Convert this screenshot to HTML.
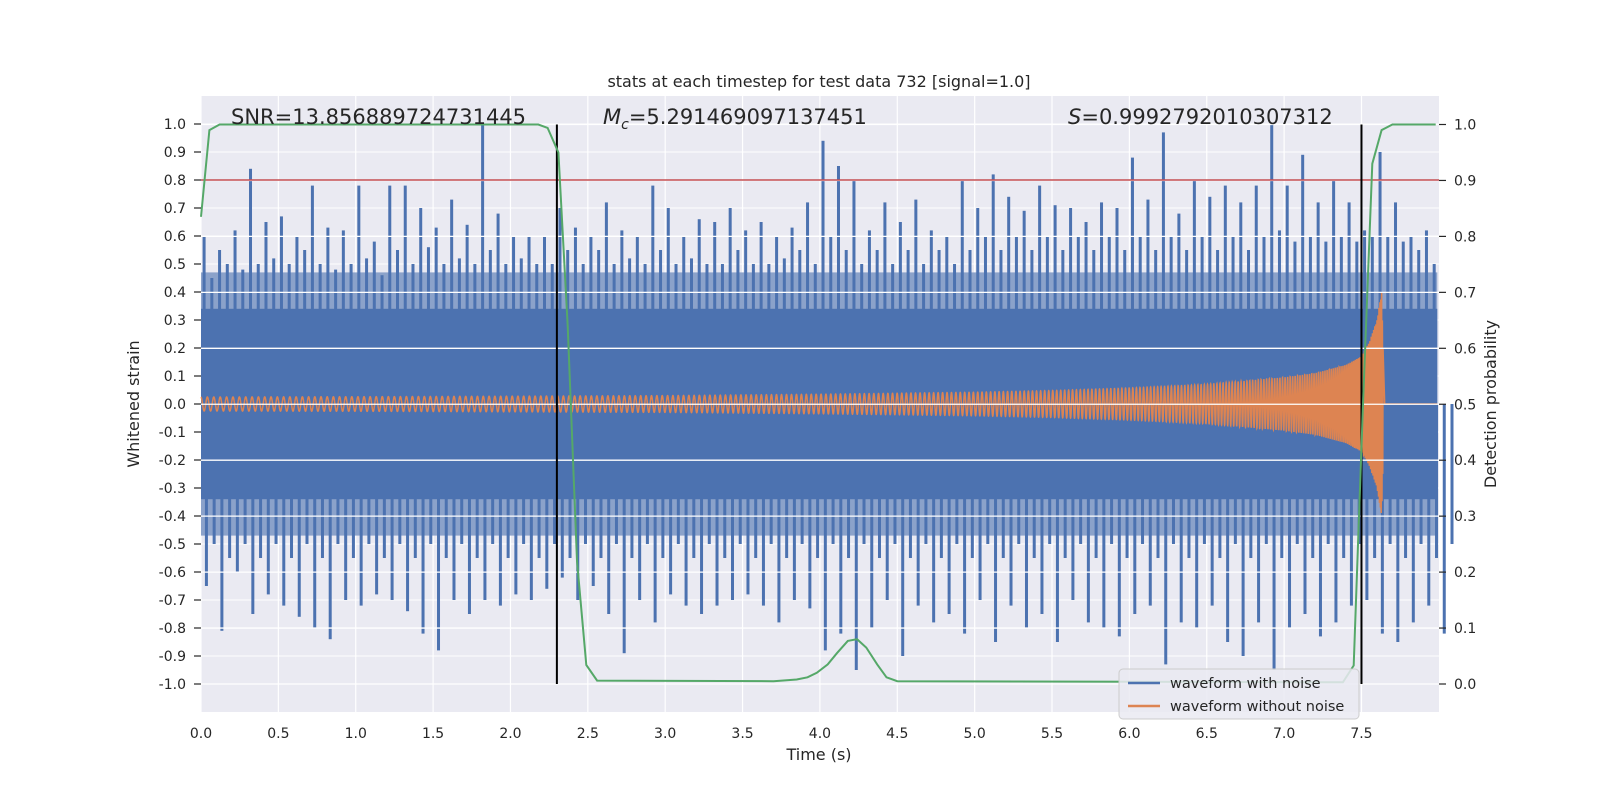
<!DOCTYPE html>
<html><head><meta charset="utf-8"><style>
html,body{margin:0;padding:0;background:#fff;}
svg text{font-family:"DejaVu Sans","Liberation Sans",sans-serif;fill:#262626;}
</style></head><body>
<svg id="chart" width="1600" height="800" viewBox="0 0 1600 800" xmlns="http://www.w3.org/2000/svg">
<rect x="201" y="96" width="1238" height="616" fill="#eaeaf2"/>
<g id="gridL"></g><g id="blue"></g><g id="orange"></g><g id="gridR"></g><g id="overlay"></g><g id="axes"></g>
<text x="819" y="87" text-anchor="middle" font-size="16">stats at each timestep for test data 732 [signal=1.0]</text>
<text x="231" y="124" font-size="21">SNR=13.856889724731445</text>
<text x="603" y="124" font-size="21"><tspan font-style="italic">M</tspan><tspan font-style="italic" font-size="14" dy="5">c</tspan><tspan dy="-5">=5.291469097137451</tspan></text>
<text x="1068" y="124" font-size="21"><tspan font-style="italic">S</tspan>=0.9992792010307312</text>
<text x="819" y="760" text-anchor="middle" font-size="16">Time (s)</text>
<text transform="translate(139,404) rotate(-90)" text-anchor="middle" font-size="16">Whitened strain</text>
<text transform="translate(1496,404) rotate(-90)" text-anchor="middle" font-size="16">Detection probability</text>
<g>
<rect x="1119" y="669" width="240" height="50" rx="4" fill="#eaeaf2" fill-opacity="0.85" stroke="#cccccc"/>
<line x1="1128" y1="683" x2="1160" y2="683" stroke="#4c72b0" stroke-width="2.5"/>
<text x="1170" y="688" font-size="14.5">waveform with noise</text>
<line x1="1128" y1="706" x2="1160" y2="706" stroke="#dd8452" stroke-width="2.5"/>
<text x="1170" y="711" font-size="14.5">waveform without noise</text>
</g>
</svg>
<script>
const upper=[0.6,0.45,0.55,0.5,0.62,0.48,0.84,0.5,0.65,0.52,0.67,0.5,0.6,0.55,0.78,0.5,0.63,0.48,0.62,0.5,0.78,0.52,0.58,0.46,0.78,0.55,0.78,0.5,0.7,0.56,0.63,0.5,0.73,0.52,0.64,0.5,1.0,0.55,0.68,0.5,0.6,0.52,0.6,0.5,0.6,0.5,0.7,0.55,0.63,0.5,0.6,0.55,0.72,0.5,0.62,0.52,0.6,0.5,0.78,0.55,0.7,0.5,0.6,0.52,0.66,0.5,0.65,0.5,0.7,0.55,0.62,0.5,0.65,0.5,0.6,0.52,0.63,0.55,0.72,0.5,0.94,0.6,0.85,0.55,0.8,0.5,0.62,0.55,0.72,0.5,0.65,0.55,0.73,0.5,0.62,0.55,0.6,0.5,0.8,0.55,0.7,0.6,0.82,0.55,0.74,0.6,0.69,0.55,0.78,0.6,0.71,0.55,0.7,0.6,0.65,0.55,0.72,0.6,0.7,0.55,0.88,0.6,0.73,0.55,0.97,0.6,0.68,0.55,0.8,0.6,0.74,0.55,0.78,0.6,0.72,0.55,0.78,0.6,1.0,0.62,0.78,0.58,0.89,0.6,0.72,0.58,0.8,0.6,0.72,0.58,0.62,0.6,0.9,0.6,0.72,0.58,0.6,0.55,0.62,0.5];
const lower=[-0.65,-0.5,-0.81,-0.55,-0.6,-0.5,-0.75,-0.55,-0.68,-0.5,-0.72,-0.55,-0.76,-0.5,-0.8,-0.55,-0.84,-0.5,-0.7,-0.55,-0.72,-0.5,-0.68,-0.55,-0.7,-0.5,-0.74,-0.55,-0.82,-0.5,-0.88,-0.55,-0.7,-0.5,-0.75,-0.55,-0.7,-0.5,-0.72,-0.55,-0.68,-0.5,-0.7,-0.55,-0.66,-0.5,-0.62,-0.55,-0.7,-0.5,-0.65,-0.55,-0.75,-0.5,-0.89,-0.55,-0.7,-0.5,-0.78,-0.55,-0.68,-0.5,-0.72,-0.55,-0.75,-0.5,-0.72,-0.55,-0.7,-0.5,-0.68,-0.55,-0.72,-0.5,-0.78,-0.55,-0.7,-0.5,-0.73,-0.55,-0.88,-0.5,-0.82,-0.55,-0.95,-0.5,-0.8,-0.55,-0.7,-0.5,-0.9,-0.55,-0.72,-0.5,-0.78,-0.55,-0.75,-0.5,-0.82,-0.55,-0.7,-0.5,-0.85,-0.55,-0.72,-0.5,-0.8,-0.55,-0.75,-0.5,-0.85,-0.55,-0.7,-0.5,-0.78,-0.55,-0.8,-0.5,-0.83,-0.55,-0.75,-0.5,-0.72,-0.55,-0.93,-0.5,-0.78,-0.55,-0.8,-0.5,-0.72,-0.55,-0.85,-0.5,-0.9,-0.55,-0.78,-0.5,-0.95,-0.55,-0.8,-0.5,-0.75,-0.55,-0.83,-0.5,-0.78,-0.55,-0.72,-0.5,-0.7,-0.55,-0.82,-0.5,-0.85,-0.55,-0.78,-0.5,-0.72,-0.55,-0.82,-0.5];
const coreHi=0.34, coreLo=-0.34;
const denseHi=0.47, denseLo=-0.47;
const ampT=[0,1,2,3,4,5,5.5,6,6.5,7,7.2,7.4,7.5,7.55,7.6,7.63,7.65];
const ampV=[0.025,0.026,0.028,0.03,0.035,0.042,0.048,0.057,0.07,0.095,0.11,0.14,0.17,0.22,0.3,0.4,0];
const probT=[0,0.054,0.12,2.18,2.24,2.31,2.37,2.43,2.49,2.56,3.7,3.85,3.92,3.98,4.05,4.11,4.18,4.24,4.3,4.37,4.43,4.5,7.38,7.45,7.51,7.57,7.63,7.7,7.98];
const probV=[0.835,0.99,1.0,1.0,0.994,0.95,0.64,0.22,0.034,0.006,0.005,0.008,0.012,0.02,0.035,0.055,0.077,0.08,0.065,0.035,0.012,0.005,0.003,0.033,0.5,0.93,0.99,1.0,1.0];
const xTicks=[0,0.5,1,1.5,2,2.5,3,3.5,4,4.5,5,5.5,6,6.5,7,7.5];
const yTicks=[1,0.9,0.8,0.7,0.6,0.5,0.4,0.3,0.2,0.1,0,-0.1,-0.2,-0.3,-0.4,-0.5,-0.6,-0.7,-0.8,-0.9,-1];
const rTicks=[0,0.1,0.2,0.3,0.4,0.5,0.6,0.7,0.8,0.9,1];
const vLines=[2.3,7.5];
const threshold=0.8;

const NS='http://www.w3.org/2000/svg';
const X=t=>201+t*154.73, Y=v=>404-v*280, R=v=>684-v*559.5;
function mk(parent,tag,attrs){const e=document.createElementNS(NS,tag);for(const k in attrs)e.setAttribute(k,attrs[k]);document.getElementById(parent).appendChild(e);return e;}
yTicks.forEach(v=>{const l=mk('gridL','line',{x1:201,x2:1439,y1:Y(v),y2:Y(v),stroke:'#fff','stroke-width':1});

});
xTicks.forEach(t=>{const l=mk('gridL','line',{x1:X(t),x2:X(t),y1:96,y2:712,stroke:'#fff','stroke-width':1.2});

});
const dense=mk('blue','rect',{x:X(0),y:Y(denseHi),width:X(7.99)-X(0),height:Y(denseLo)-Y(denseHi),fill:'#8ba2ca'});


const core=mk('blue','rect',{x:X(0),y:Y(coreHi),width:X(7.99)-X(0),height:Y(coreLo)-Y(coreHi),fill:'#4c72b0'});


const step=8/upper.length;
upper.forEach((v,i)=>{const r=mk('blue','rect',{x:X(i*step+0.02)-1.5,y:Y(v),width:3,height:Y(0)-Y(v),fill:'#4c72b0'});

});
lower.forEach((v,i)=>{const r=mk('blue','rect',{x:X(i*step+0.035)-1.5,y:Y(0),width:3,height:Y(v)-Y(0),fill:'#4c72b0'});

});
function amp(t){for(let i=0;i<ampT.length-1;i++){if(t<=ampT[i+1]){const f=(t-ampT[i])/(ampT[i+1]-ampT[i]);return ampV[i]+f*(ampV[i+1]-ampV[i]);}}return 0;}
let pts=[],ph=0,dt=0.0005;
for(let t=0;t<=7.99;t+=dt){const tc=ampT[ampT.length-1];const fr=t<tc-0.01?24*Math.pow(1-t/(tc+0.01),-0.375):0;ph+=2*Math.PI*fr*dt;const a=t<tc?amp(t):0;pts.push(X(t).toFixed(2)+','+Y(a*Math.cos(ph)).toFixed(2));}
const op=mk('orange','polyline',{points:pts.join(' '),fill:'none',stroke:'#dd8452','stroke-width':1.5});


rTicks.forEach(v=>{const l=mk('gridR','line',{x1:201,x2:1439,y1:R(v),y2:R(v),stroke:'#fff','stroke-width':1.3});

});
const th=mk('overlay','line',{x1:201,x2:1439,y1:Y(threshold),y2:Y(threshold),stroke:'#c44e52','stroke-width':1.5});


vLines.forEach(t=>{const l=mk('overlay','line',{x1:X(t),x2:X(t),y1:R(1),y2:R(0),stroke:'#000','stroke-width':2});

});
const gp=mk('overlay','polyline',{points:probT.map((t,i)=>X(t).toFixed(1)+','+R(probV[i]).toFixed(1)).join(' '),fill:'none',stroke:'#55a868','stroke-width':2});


xTicks.forEach(t=>{const l=mk('axes','text',{x:X(t),y:738,'text-anchor':'middle','font-size':14});l.textContent=t.toFixed(1);

});
yTicks.forEach(v=>{const l=mk('axes','text',{x:186,y:Y(v)+5,'text-anchor':'end','font-size':14});l.textContent=v.toFixed(1);


const tk=mk('axes','line',{x1:194,x2:201,y1:Y(v),y2:Y(v),stroke:'#262626','stroke-width':1.2});

});
rTicks.forEach(v=>{const l=mk('axes','text',{x:1454,y:R(v)+5,'font-size':14});l.textContent=v.toFixed(1);


const tk=mk('axes','line',{x1:1439,x2:1446,y1:R(v),y2:R(v),stroke:'#262626','stroke-width':1.2});

});
</script>
</body></html>
